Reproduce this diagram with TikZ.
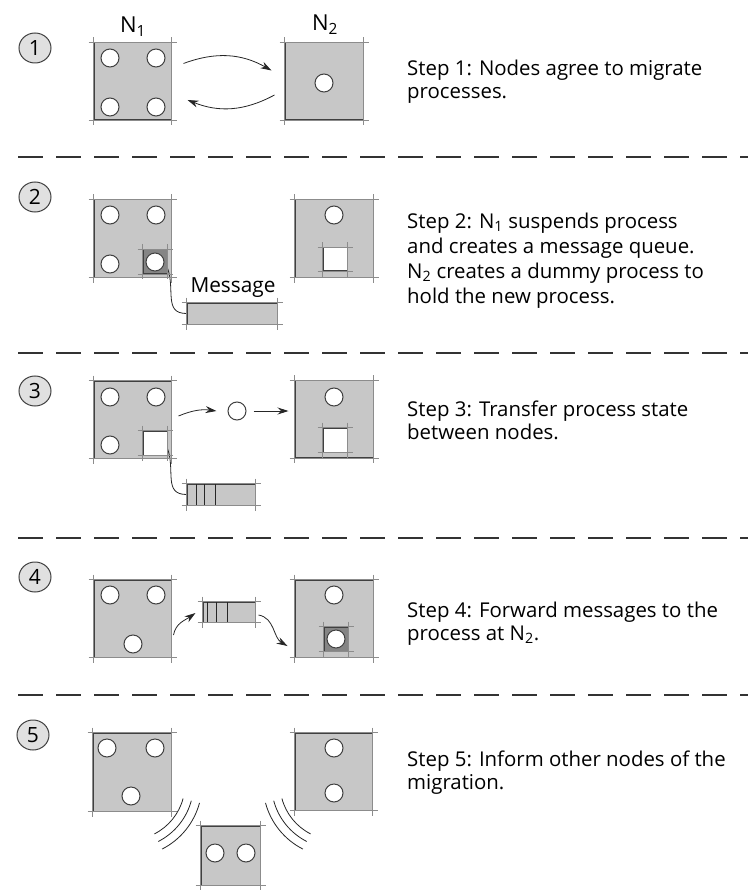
\documentclass[tikz,border=0pt]{standalone}
\usepackage{fontspec}
\setmainfont{Open Sans}
\usetikzlibrary{arrows.meta,calc,shapes.geometric}

\begin{document}
\begin{tikzpicture}[x=1pt,y=-1pt,
  host/.style={draw=black!75,fill=black!22,line width=1pt,minimum width=77pt,minimum height=77pt,inner sep=0pt},
  proc/.style={circle,draw=black!75,fill=white,line width=1pt,minimum size=18pt,inner sep=0pt},
  slot/.style={draw=black!75,fill=white,line width=1pt,minimum size=24pt,inner sep=0pt},
  held/.style={slot,fill=black!48},
  queue/.style={draw=black!75,fill=black!22,line width=1pt,minimum height=21pt,inner sep=0pt},
  stepno/.style={ellipse,draw=black!75,fill=black!12,line width=1pt,minimum width=32pt,minimum height=30pt,inner sep=0pt,font=\fontsize{21}{21}\selectfont},
  hostname/.style={inner sep=0pt,font=\fontsize{22}{22}\selectfont},
  steptext/.style={anchor=north west,inner sep=0pt,align=left,font=\fontsize{20.4}{22.5}\selectfont},
  arr/.style={-{Stealth[length=11pt,width=7pt]},line width=0.8pt,black!85},
  link/.style={line width=0.8pt,black!85},
  edge/.style={line width=0.6pt,black!45},
  wave/.style={line width=0.8pt,black!85},
  divider/.style={line width=1.3pt,black!80,dash pattern=on 25pt off 13pt}
]
\useasboundingbox (0,0) rectangle (748,890);

% dividers between the steps
\foreach \y in {157,353,538,695}
  \draw[divider] (18,\y) -- (748,\y);

\node[hostname] (n1) at (133,27) {N\textsubscript{1}};
\node[hostname] (n2) at (325,25) {N\textsubscript{2}};

% step 1
\node[stepno] (s1) at (35,48) {1};
\node[host] (a1) at (132.5,81.5) {};
\node[host,minimum width=78pt] (b1) at (324,81.5) {};
\foreach \x/\y [count=\i] in {110/58,156/58,110/107,156/107}
  \node[proc] (a1p\i) at (\x,\y) {};
\node[proc] (b1p1) at (324,83) {};
\draw[arr] ([xshift=12pt,yshift=18pt]a1.east) to[bend left=25] ([xshift=-13pt,yshift=11pt]b1.west);
\draw[arr] ([xshift=-10pt,yshift=-13.5pt]b1.west) to[bend left=25] ([xshift=16pt,yshift=-18.5pt]a1.east);

% step 2
\node[stepno] (s2) at (35,197) {2};
\node[host] (a2) at (132.5,238.5) {};
\node[host,minimum width=78pt] (b2) at (334,238.5) {};
\node[held] (a2h) at (155,261.5) {};
\foreach \x/\y [count=\i] in {110/215,156/215,110/264,155/262}
  \node[proc] (a2p\i) at (\x,\y) {};
\node[proc] (b2p1) at (334,215) {};
\node[slot,minimum height=23pt] (b2s) at (335,259.5) {};
\node[queue,minimum width=90pt] (q2) at (232,313.5) {};
\node[inner sep=0pt,font=\fontsize{20.8}{20.8}\selectfont] (msg) at (233,288) {Message};
\draw[link] ([yshift=6pt]a2h.south east) to[out=-70,in=180,looseness=1.2] (q2.west);

% step 3
\node[stepno] (s3) at (35,391) {3};
\node[host] (a3) at (132.5,419.5) {};
\node[host,minimum width=78pt] (b3) at (334,419) {};
\foreach \x/\y [count=\i] in {110/397,156/397,110/445}
  \node[proc] (a3p\i) at (\x,\y) {};
\node[slot] (a3s) at (155,443) {};
\node[proc] (b3p1) at (334,397) {};
\node[slot] (b3s) at (335,440) {};
\node[proc] (m3) at (237,411) {};
\draw[arr] ([xshift=7pt,yshift=3.5pt]a3.east) to[bend left=15] ([xshift=-11pt]m3.west);
\draw[arr] ([xshift=7pt]m3.east) -- ([xshift=-6pt,yshift=8pt]b3.west);
\node[queue,minimum width=68pt] (q3) at (221,494.5) {};
\foreach \d in {10,18,29}
  \draw[link] ([xshift=\d pt]q3.north west) -- ([xshift=\d pt]q3.south west);
\draw[link] ([yshift=7pt]a3s.south east) to[out=-70,in=180,looseness=1.2] (q3.west);

% step 4
\node[stepno] (s4) at (35,577) {4};
\node[host] (a4) at (132.5,618.5) {};
\node[host,minimum width=78pt] (b4) at (334,618.5) {};
\foreach \x/\y [count=\i] in {110/595,156/595,133/644}
  \node[proc] (a4p\i) at (\x,\y) {};
\node[proc] (b4p1) at (334,595) {};
\node[held] (b4h) at (336,639) {};
\node[proc] (b4p2) at (336,639) {};
\node[queue,minimum width=52pt,minimum height=20pt] (q4) at (229,612) {};
\foreach \d in {5,14,25}
  \draw[link] ([xshift=\d pt]q4.north west) -- ([xshift=\d pt]q4.south west);
\draw[arr] ([xshift=2pt,yshift=-16.5pt]a4.east) to[out=80,in=215] ([xshift=-7pt,yshift=-1pt]q4.west);
\draw[arr] ([xshift=3pt,yshift=-3pt]q4.east) to[out=-10,in=150] ([xshift=-7pt,yshift=-27.5pt]b4.west);

% step 5
\node[stepno] (s5) at (33,735) {5};
\node[host,minimum width=78pt,minimum height=78pt] (a5) at (132,772) {};
\node[host] (b5) at (333.5,771.5) {};
\node[host,minimum width=59pt,minimum height=59pt] (c5) at (230.5,855.5) {};
\foreach \x/\y [count=\i] in {107/748,155/748,131/796}
  \node[proc] (a5p\i) at (\x,\y) {};
\foreach \x/\y [count=\i] in {334/748,334/793}
  \node[proc] (b5p\i) at (\x,\y) {};
\foreach \x/\y [count=\i] in {215/853,246/853}
  \node[proc] (c5p\i) at (\x,\y) {};
\coordinate (wl) at ($(a5.center)+(-3,12)$);
\coordinate (wr) at ($(b5.center)+(2.5,12.5)$);
\foreach \r in {56,64.5,73} {
  \draw[wave] (wl) ++(15:\r) arc[start angle=15,end angle=63,radius=\r];
  \draw[wave] (wr) ++(165:\r) arc[start angle=165,end angle=117,radius=\r];
}

% box edges run past the corners
\foreach \b in {a1,b1,a2,b2,a3,b3,a4,b4,a5,b5,c5,q2,q3,q4,a2h,b2s,a3s,b3s,b4h} {
  \draw[edge] ([xshift=-5pt]\b.north west) -- ([xshift=5pt]\b.north east);
  \draw[edge] ([xshift=-5pt]\b.south west) -- ([xshift=5pt]\b.south east);
  \draw[edge] ([yshift=5pt]\b.north west) -- ([yshift=-5pt]\b.south west);
  \draw[edge] ([yshift=5pt]\b.north east) -- ([yshift=-5pt]\b.south east);
}

% step texts
\node[steptext] (t1) at (407,60) {Step 1: Nodes agree to migrate\\processes.};
\node[steptext,font=\fontsize{20.4}{25}\selectfont] (t2) at (407,213) {Step 2: N\textsubscript{1} suspends process\\and creates a message queue.\\N\textsubscript{2} creates a dummy process to\\hold the new process.};
\node[steptext] (t3) at (407,401) {Step 3: Transfer process state\\between nodes.};
\node[steptext] (t4) at (407,602) {Step 4: Forward messages to the\\process at N\textsubscript{2}.};
\node[steptext] (t5) at (407,751) {Step 5: Inform other nodes of the\\migration.};
\end{tikzpicture}
\end{document}
